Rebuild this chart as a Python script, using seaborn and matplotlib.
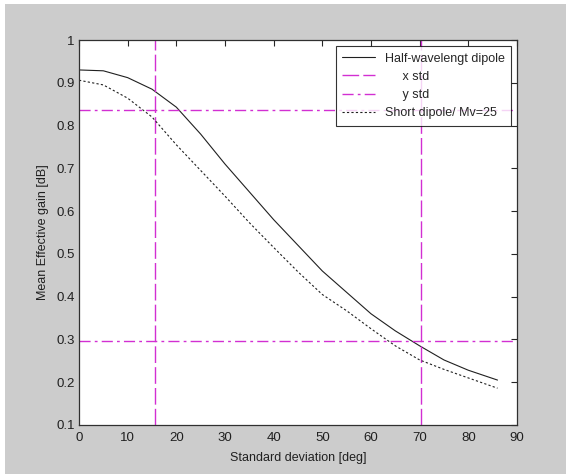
import numpy as np
import pandas as pd
import matplotlib
matplotlib.use("Agg")
import matplotlib.pyplot as plt
from matplotlib.patches import Rectangle
import seaborn as sns

# valores
std_deg = [0, 5, 10, 15, 20, 25, 30, 35, 40, 45, 50, 55, 60, 65, 70, 75, 80, 86]
half_wave = [0.930, 0.928, 0.912, 0.885, 0.843, 0.780, 0.710, 0.645, 0.580, 0.520,
             0.460, 0.410, 0.360, 0.320, 0.285, 0.252, 0.228, 0.205]
short_dip = [0.906, 0.895, 0.864, 0.820, 0.755, 0.695, 0.635, 0.573, 0.515, 0.458,
             0.405, 0.367, 0.325, 0.285, 0.252, 0.230, 0.210, 0.186]
x_std = 15.6
x_std2 = 70.3
y_std = 0.836
y_std2 = 0.296
xticks = list(range(0, 91, 10))
yticks = [0.1, 0.2, 0.3, 0.4, 0.5, 0.6, 0.7, 0.8, 0.9, 1]

sns.set_style("white")
plt.rcParams['font.family'] = ['Liberation Sans', 'DejaVu Sans']
plt.rcParams['font.size'] = 9

df = pd.DataFrame({"std": std_deg, "half": half_wave, "short": short_dip})

fig = plt.figure(figsize=(5.66, 4.74), dpi=100, facecolor="white")
# fundo cinza (faixa branca em cima e a esquerda)
fig.patches.append(Rectangle((5 / 566, 0), 1, 1 - 4 / 474, transform=fig.transFigure,
                             facecolor="#cccccc", edgecolor="none", zorder=-1))
ax = fig.add_axes([0.1396, 0.1034, 0.7738, 0.8122])
ax.set_facecolor("white")

mag = "#d22fd2"
sns.lineplot(data=df, x="std", y="half", ax=ax, color="#202020", lw=0.8,
             label="Half-wavelengt dipole")
ax.axvline(x_std, color=mag, lw=1.0, ls=(0, (12, 3)), label="     x std")
ax.axvline(x_std2, color=mag, lw=1.0, ls=(0, (12, 3)))
ax.axhline(y_std, color=mag, lw=1.0, ls=(0, (8, 3, 2, 3)), label="     y std")
ax.axhline(y_std2, color=mag, lw=1.0, ls=(0, (8, 3, 2, 3)))
sns.lineplot(data=df, x="std", y="short", ax=ax, color="#202020", lw=0.8,
             ls=(0, (2, 2)), label="Short dipole/ Mv=25")

ax.set_xlim(0, 90)
ax.set_ylim(0.1, 1)
ax.set_xticks(xticks)
ax.set_yticks(yticks)
ax.set_yticklabels([f"{v:g}" for v in yticks])
ax.tick_params(direction="in", length=4, top=True, right=True, labelsize=9.5,
               labelcolor="#202020")
ax.tick_params(axis="x", pad=5)
ax.tick_params(axis="y", pad=3)
for s in ax.spines.values():
    s.set_color("#303030")
    s.set_linewidth(0.9)
ax.set_xlabel("Standard deviation [deg]", fontsize=9, color="#202020", labelpad=6)
ax.set_ylabel("Mean Effective gain [dB]", fontsize=9, color="#202020", labelpad=5)

leg = ax.legend(loc="upper right", fontsize=9, frameon=True, fancybox=False,
                edgecolor="black", borderaxespad=0.5, handlelength=2.6,
                labelspacing=0.5, borderpad=0.5)
leg.get_frame().set_linewidth(0.8)

fig.savefig("out.png", dpi=100, facecolor=fig.get_facecolor())
